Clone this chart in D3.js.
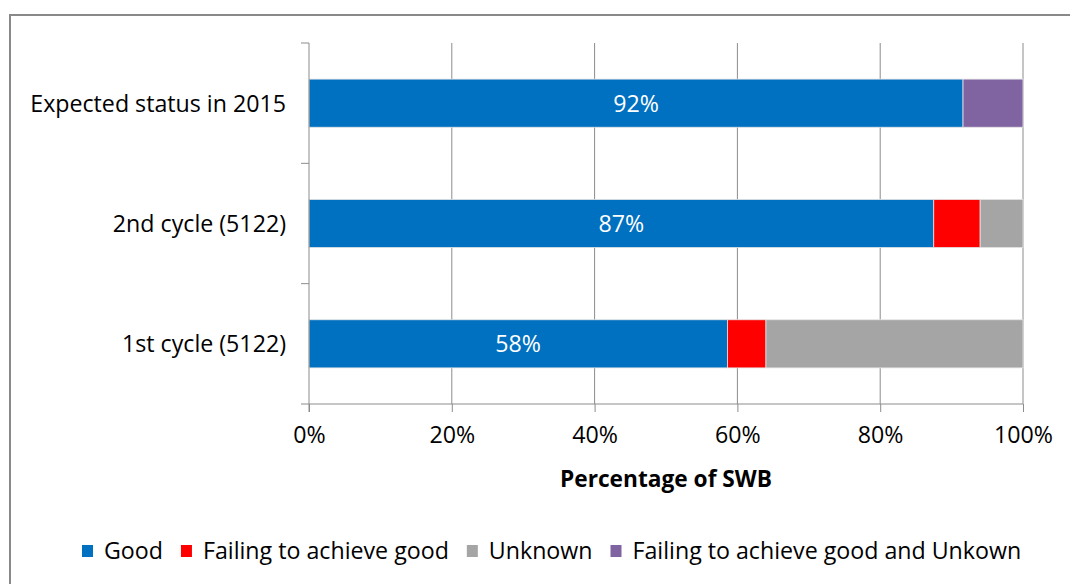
<!DOCTYPE html>
<html>
<head>
<meta charset="utf-8">
<script src="https://cdn.jsdelivr.net/npm/d3@7"></script>
<style>
  body { margin: 0; background: #fff; }
  text { font-family: "Open Sans", Lato, sans-serif; fill: #000; }
</style>
</head>
<body>
<svg id="chart" width="1070" height="584"></svg>
<script>
// data (percent of SWB)
var categories = ["Expected status in 2015", "2nd cycle (5122)", "1st cycle (5122)"];
var seriesNames = ["Good", "Failing to achieve good", "Unknown", "Failing to achieve good and Unkown"];
var good = [91.6, 87.5, 58.6];
var failing = [0, 6.5, 5.4];
var unknown = [0, 6.0, 36.0];
var failingUnknown = [8.4, 0, 0];
var barLabels = ["92%", "87%", "58%"];
var tickValues = [0, 20, 40, 60, 80, 100];
var colors = ["#0070c0", "#ff0000", "#a5a5a5", "#8064a2"];

var svg = d3.select("#chart");
var fontSize = "23.2px";

// outer frame
svg.append("rect")
    .attr("x", 10).attr("y", 15)
    .attr("width", 1080).attr("height", 600)
    .attr("fill", "none")
    .attr("stroke", "#898989")
    .attr("stroke-width", 2);

var plotLeft = 309, plotRight = 1023, plotTop = 43, plotBottom = 404;

var x = d3.scaleLinear().domain([0, 100]).range([plotLeft, plotRight]);
var y = d3.scaleBand().domain(categories).range([plotTop, plotBottom]).paddingInner(0.6).paddingOuter(0.3);

// build stack rows
var rows = categories.map(function (c, i) {
    var r = { cat: c };
    r[seriesNames[0]] = good[i];
    r[seriesNames[1]] = failing[i];
    r[seriesNames[2]] = unknown[i];
    r[seriesNames[3]] = failingUnknown[i];
    return r;
});
var stacked = d3.stack().keys(seriesNames)(rows);

// gridlines
svg.append("g")
    .selectAll("line")
    .data(tickValues.slice(1))
    .enter().append("line")
    .attr("x1", function (d) { return x(d); })
    .attr("x2", function (d) { return x(d); })
    .attr("y1", plotTop).attr("y2", plotBottom)
    .attr("stroke", "#8c8c8c")
    .attr("stroke-width", 1);

// bars
svg.append("g")
    .selectAll("g")
    .data(stacked)
    .enter().append("g")
    .attr("fill", function (d, i) { return colors[i]; })
    .selectAll("rect")
    .data(function (d) { return d.filter(function (s) { return s[1] > s[0]; }); })
    .enter().append("rect")
    .attr("x", function (d) { return x(d[0]); })
    .attr("width", function (d) { return x(d[1]) - x(d[0]); })
    .attr("y", function (d) { return y(d.data.cat); })
    .attr("height", y.bandwidth())
    .attr("stroke", "#e4e4e4")
    .attr("stroke-width", 0.8);

// bar labels
svg.append("g")
    .selectAll("text")
    .data(categories)
    .enter().append("text")
    .attr("x", function (d, i) { return x(good[i] / 2); })
    .attr("y", function (d) { return y(d) + y.bandwidth() / 2; })
    .attr("dy", "0.36em")
    .attr("text-anchor", "middle")
    .style("fill", "#fff")
    .style("font-size", fontSize)
    .text(function (d, i) { return barLabels[i]; });

// x axis
var xAxis = svg.append("g")
    .attr("transform", "translate(0," + plotBottom + ")")
    .call(d3.axisBottom(x).tickValues(tickValues).tickSize(8).tickPadding(15)
        .tickFormat(function (d) { return d + "%"; }));
xAxis.select(".domain").remove();
xAxis.append("line")
    .attr("x1", plotLeft - 8).attr("x2", plotRight)
    .attr("stroke", "#8c8c8c");
xAxis.selectAll(".tick line").attr("stroke", "#8c8c8c");
xAxis.selectAll(".tick text")
    .style("font-family", "'Open Sans', Lato, sans-serif")
    .style("font-size", fontSize)
    .attr("fill", "#000");

// y axis
var yAxisLine = svg.append("g");
yAxisLine.append("line")
    .attr("x1", plotLeft).attr("x2", plotLeft)
    .attr("y1", plotTop).attr("y2", plotBottom + 8)
    .attr("stroke", "#8c8c8c");
var boundaries = [plotTop].concat(categories.map(function (c) { return y(c) + y.bandwidth() + y.step() * y.paddingInner() / 2; }));
yAxisLine.selectAll(".yt")
    .data(boundaries.slice(0, 3))
    .enter().append("line")
    .attr("class", "yt")
    .attr("x1", plotLeft - 8).attr("x2", plotLeft)
    .attr("y1", function (d) { return d; })
    .attr("y2", function (d) { return d; })
    .attr("stroke", "#8c8c8c");

// category labels
svg.append("g")
    .selectAll("text")
    .data(categories)
    .enter().append("text")
    .attr("x", 286)
    .attr("y", function (d) { return y(d) + y.bandwidth() / 2; })
    .attr("dy", "0.36em")
    .attr("text-anchor", "end")
    .style("font-size", fontSize)
    .text(function (d) { return d; });

// axis title
svg.append("text")
    .attr("x", x(50))
    .attr("y", 487)
    .attr("text-anchor", "middle")
    .style("font-size", "22.7px")
    .style("font-weight", "bold")
    .text("Percentage of SWB");

// legend
var legend = svg.append("g").attr("transform", "translate(82,551)");
var cursor = 0;
seriesNames.forEach(function (name, i) {
    var item = legend.append("g").attr("transform", "translate(" + cursor + ",0)");
    item.append("rect")
        .attr("x", 0).attr("y", -6)
        .attr("width", 11).attr("height", 12)
        .attr("fill", colors[i]);
    var t = item.append("text")
        .attr("x", 22).attr("dy", "0.36em")
        .style("font-size", fontSize)
        .text(name);
    cursor += 22 + t.node().getComputedTextLength() + 18;
});
</script>
</body>
</html>
